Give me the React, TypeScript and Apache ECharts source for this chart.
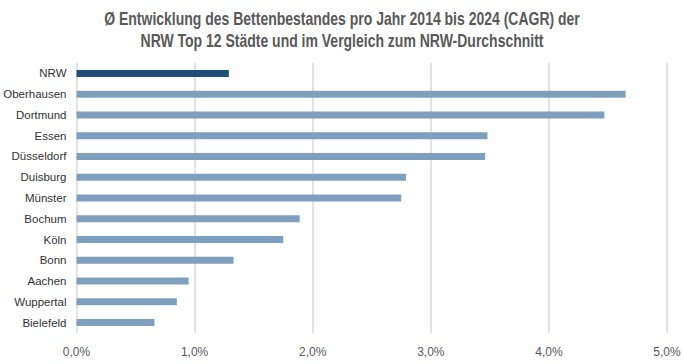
import React, { useEffect, useRef } from "react";
import * as echarts from "echarts";

const categories = ["NRW", "Oberhausen", "Dortmund", "Essen", "Düsseldorf", "Duisburg", "Münster", "Bochum", "Köln", "Bonn", "Aachen", "Wuppertal", "Bielefeld"];
const values = [1.29, 4.65, 4.47, 3.48, 3.46, 2.79, 2.75, 1.89, 1.75, 1.33, 0.95, 0.85, 0.66];
const titleLines = [
  "Ø Entwicklung des Bettenbestandes pro Jahr 2014 bis 2024 (CAGR) der",
  "NRW Top 12 Städte und im Vergleich zum NRW-Durchschnitt",
];

const FONT = "'Liberation Sans', Arial, sans-serif";

export default function App() {
  const ref = useRef<HTMLDivElement>(null);
  useEffect(() => {
    if (!ref.current) return;
    const chart = echarts.init(ref.current, undefined, { renderer: "svg" });
    chart.setOption({
      animation: false,
      backgroundColor: "#ffffff",
      graphic: titleLines.map((t, i) => ({
        type: "text",
        x: 342,
        y: 19 + i * 22,
        scaleX: 0.8,
        style: {
          text: t,
          fontFamily: FONT,
          fontSize: 17.5,
          fontWeight: "bold",
          fill: "#595959",
          align: "center",
          verticalAlign: "middle",
        },
      })),
      grid: { left: 76.5, right: 17, top: 63, bottom: 31, containLabel: false, outerBoundsMode: "none" },
      xAxis: {
        type: "value",
        min: 0,
        max: 5,
        interval: 1,
        axisLine: { show: false },
        axisTick: { show: false },
        splitLine: { show: true, lineStyle: { color: "#d9d9d9", width: 1.5 } },
        axisLabel: {
          fontFamily: FONT,
          fontSize: 12,
          color: "#595959",
          margin: 13,
          formatter: (v: number) => v.toFixed(1).replace(".", ",") + "%",
        },
      },
      yAxis: {
        type: "category",
        data: categories,
        inverse: true,
        axisLine: { show: false },
        axisTick: { show: false },
        axisLabel: { fontFamily: FONT, fontSize: 11.5, color: "#333333", margin: 10 },
      },
      series: [
        {
          type: "bar",
          barWidth: 7,
          data: values.map((v, i) => ({
            value: v,
            itemStyle: { color: i === 0 ? "#1f4e79" : "#7f9fbf" },
          })),
        },
      ],
    });
    return () => chart.dispose();
  }, []);
  return <div ref={ref} style={{ width: 684, height: 364, position: "absolute", left: 0, top: 0 }} />;
}
